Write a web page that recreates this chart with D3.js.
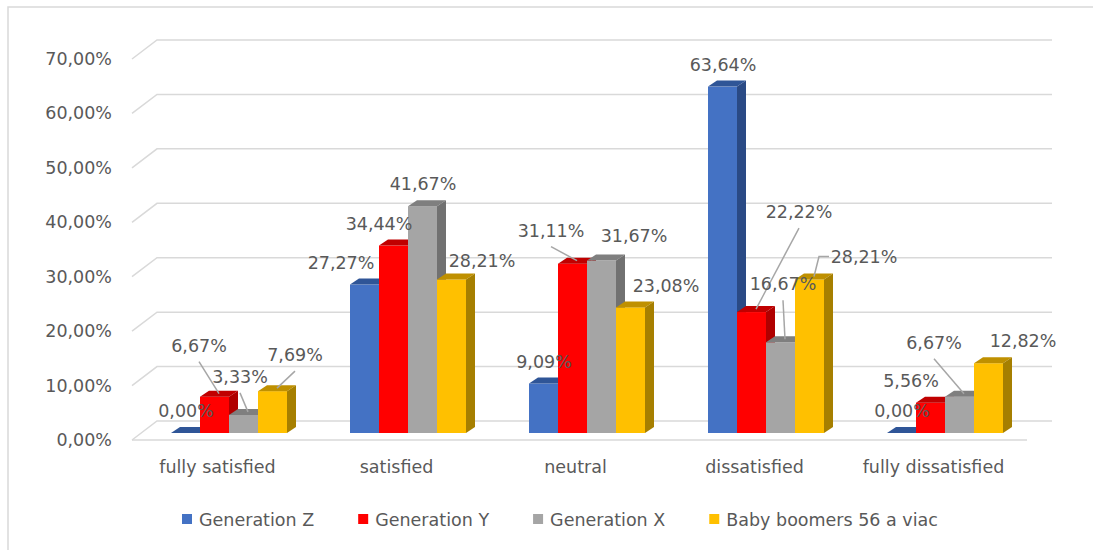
<!DOCTYPE html>
<html lang="en">
<head>
    <meta charset="UTF-8">
    <title>Satisfaction by generation</title>
    <script src="https://d3js.org/d3.v7.min.js"></script>
    <style>
        body { margin: 0; background: #fff; }
        text { fill: #595959; }
    </style>
</head>
<body>
    <div id="chart"></div>

    <script>
        // data
        var categories = ["fully satisfied", "satisfied", "neutral", "dissatisfied", "fully dissatisfied"];
        var seriesNames = ["Generation Z", "Generation Y", "Generation X", "Baby boomers 56 a viac"];
        var genZ = [0.00, 27.27, 9.09, 63.64, 0.00];
        var genY = [6.67, 34.44, 31.11, 22.22, 5.56];
        var genX = [3.33, 41.67, 31.67, 16.67, 6.67];
        var boomers = [7.69, 28.21, 23.08, 28.21, 12.82];
        var yTicks = [0, 10, 20, 30, 40, 50, 60, 70];

        var seriesValues = [genZ, genY, genX, boomers];

        // colours: front, top, side
        var faceColors = [
            ["#4472C4", "#2F5597", "#2A4A85"],
            ["#FF0000", "#C00000", "#B00000"],
            ["#A5A5A5", "#7F7F7F", "#717171"],
            ["#FFC000", "#BF9000", "#A67F00"]
        ];

        // hand moved data labels in the original: [dx, dy, leader] per series per category
        var labelMoves = [
            [[0, 0, 0], [-24, 0, 0], [0, 0, 0], [0, 0, 0], [0, 0, 0]],
            [[-16, -29, 1], [-15, 0, 0], [-22, -11, 1], [47, -78, 1], [-20, 0, 0]],
            [[-4, -16, 1], [0, 0, 0], [32, -3, 0], [2, -36, 1], [-26, -32, 1]],
            [[22, -14, 1], [30, 4, 0], [35, 1, 0], [54, 0, 2], [34, 0, 0]]
        ];

        var W = 1093, H = 550;
        var floorL = 132, floorR = 1027, depthX = 25, depthY = -19;
        var barDX = 9, barDY = -6, groupW = 116;

        var svg = d3.select("#chart").append("svg")
            .attr("width", W)
            .attr("height", H)
            .style("font-family", "'DejaVu Sans', sans-serif");

        // chart frame (runs off the right and bottom of the picture)
        svg.append("rect")
            .attr("x", 8).attr("y", 7)
            .attr("width", 1110).attr("height", 580)
            .attr("fill", "none")
            .attr("stroke", "#d9d9d9")
            .attr("stroke-width", 1.5);

        var y = d3.scaleLinear().domain([0, 70]).range([433, 52]);
        var x = d3.scaleBand().domain(categories).range([139.5, 1034.5]);
        var xFloor = d3.scaleBand().domain(categories).range([floorL, floorR]);
        var xs = d3.scaleBand().domain(seriesNames).range([0, groupW]);

        var fmt = function(v) { return v.toFixed(2).replace(".", ",") + "%"; };

        // gridlines: side wall diagonal + back wall line
        var grid = svg.append("g")
            .attr("fill", "none")
            .attr("stroke", "#d9d9d9")
            .attr("stroke-width", 1.5);
        yTicks.forEach(function(t) {
            var yf = y(t) + 7;
            grid.append("path")
                .attr("d", "M" + floorL + "," + yf + "L" + (floorL + depthX) + "," + (yf + depthY) +
                    "H" + (floorR + depthX));
        });
        grid.append("path")
            .attr("d", "M" + floorL + "," + (y(0) + 7) + "H" + floorR);

        // y axis labels
        svg.append("g").selectAll("text")
            .data(yTicks)
            .enter().append("text")
            .attr("x", 112)
            .attr("y", function(d) { return y(d) + 13; })
            .attr("text-anchor", "end")
            .style("font-size", "17.5px")
            .text(fmt);

        // bars drawn left to right so neighbours hide each other properly
        var bars = svg.append("g");
        var labelInfo = [];
        categories.forEach(function(cat, ci) {
            var gx = x(cat) + (x.bandwidth() - groupW) / 2;
            seriesNames.forEach(function(s, si) {
                var v = seriesValues[si][ci];
                var x0 = gx + xs(s), x1 = x0 + xs.bandwidth();
                var yt = y(v), yb = y(0);
                var c = faceColors[si];
                bars.append("rect")
                    .attr("x", x0).attr("y", yt)
                    .attr("width", x1 - x0).attr("height", yb - yt)
                    .attr("fill", c[0]);
                bars.append("path")
                    .attr("d", "M" + x0 + "," + yt + "L" + (x0 + barDX) + "," + (yt + barDY) +
                        "L" + (x1 + barDX) + "," + (yt + barDY) + "L" + x1 + "," + yt + "Z")
                    .attr("fill", c[1]);
                bars.append("path")
                    .attr("d", "M" + x1 + "," + yt + "L" + (x1 + barDX) + "," + (yt + barDY) +
                        "L" + (x1 + barDX) + "," + (yb + barDY) + "L" + x1 + "," + yb + "Z")
                    .attr("fill", c[2]);
                var m = labelMoves[si][ci];
                labelInfo.push({
                    v: v,
                    cx: x0 + 15 + m[0],
                    by: yt - 16 + m[1],
                    leader: m[2],
                    tx: x0 + 19,
                    ty: yt - 3
                });
            });
        });

        // leader lines
        var leaders = svg.append("g")
            .attr("fill", "none")
            .attr("stroke", "#a6a6a6")
            .attr("stroke-width", 1.5);
        labelInfo.forEach(function(d) {
            if (d.leader === 1) {
                leaders.append("path")
                    .attr("d", "M" + d.cx + "," + (d.by + 10) + "L" + d.tx + "," + d.ty);
            } else if (d.leader === 2) {
                var sx = d.cx - 35, sy = d.by - 7;
                leaders.append("path")
                    .attr("d", "M" + sx + "," + sy + "H" + (sx - 10) + "L" + d.tx + "," + d.ty);
            }
        });

        // data labels
        svg.append("g").selectAll("text")
            .data(labelInfo)
            .enter().append("text")
            .attr("x", function(d) { return d.cx; })
            .attr("y", function(d) { return d.by; })
            .attr("text-anchor", "middle")
            .style("font-size", "17.5px")
            .text(function(d) { return fmt(d.v); });

        // category labels
        svg.append("g").selectAll("text")
            .data(categories)
            .enter().append("text")
            .attr("x", function(d) { return xFloor(d) + xFloor.bandwidth() / 2 - 4; })
            .attr("y", 473)
            .attr("text-anchor", "middle")
            .style("font-size", "17.5px")
            .text(function(d) { return d; });

        // legend
        var legend = svg.append("g");
        var lx = 182;
        seriesNames.forEach(function(s, si) {
            legend.append("rect")
                .attr("x", lx).attr("y", 514)
                .attr("width", 10).attr("height", 10)
                .attr("fill", faceColors[si][0]);
            var t = legend.append("text")
                .attr("x", lx + 17)
                .attr("y", 526)
                .style("font-size", "17.5px")
                .text(s);
            lx += 17 + t.node().getComputedTextLength() + 44;
        });
    </script>
</body>
</html>
